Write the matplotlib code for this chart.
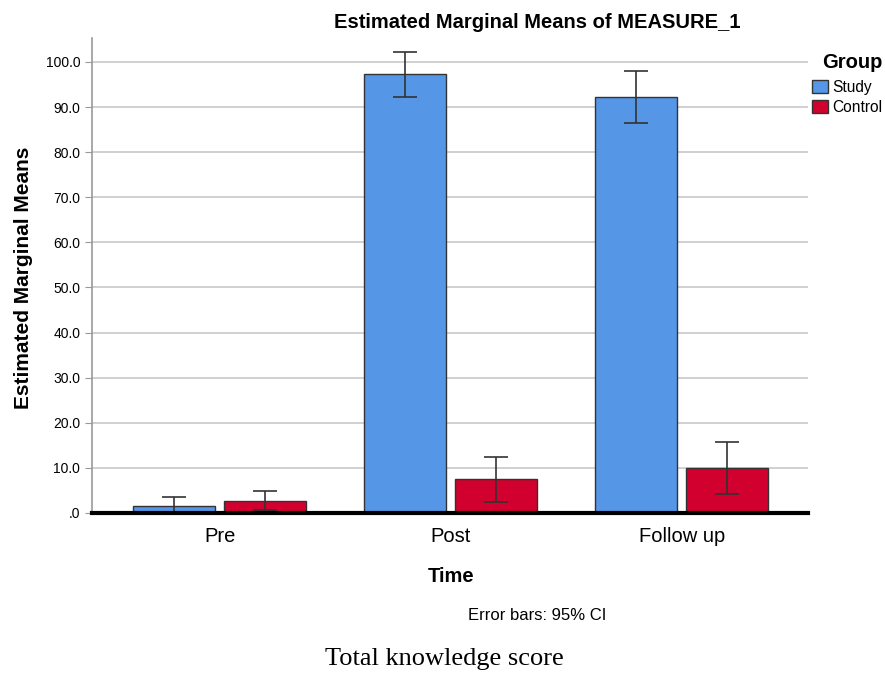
import numpy as np
import matplotlib.pyplot as plt

plt.rcParams['font.family'] = ['Liberation Sans', 'DejaVu Sans']

times = ['Pre', 'Post', 'Follow up']
groups = ['Study', 'Control']
study_mean = [1.6, 97.3, 92.2]
study_lo = [-0.3, 92.2, 86.5]
study_hi = [3.5, 102.2, 98.0]
control_mean = [2.7, 7.5, 10.0]
control_lo = [0.7, 2.4, 4.2]
control_hi = [4.9, 12.4, 15.7]
yticks = [0, 10, 20, 30, 40, 50, 60, 70, 80, 90, 100]
ytick_labels = ['.0', '10.0', '20.0', '30.0', '40.0', '50.0', '60.0', '70.0', '80.0', '90.0', '100.0']

colors = ['#5596e6', '#d2002e']

fig = plt.figure(figsize=(8.85, 6.73), dpi=100)
ax = fig.add_axes([92 / 885, 1 - 513 / 673, (808 - 92) / 885, (513 - 38) / 673])

x = np.arange(len(times))
w = 0.355
offs = [-0.2, 0.195]
series = [(study_mean, study_lo, study_hi), (control_mean, control_lo, control_hi)]
for i, (m, lo, hi) in enumerate(series):
    m = np.array(m)
    yerr = [m - np.array(lo), np.array(hi) - m]
    ax.bar(x + offs[i], m, w, color=colors[i], edgecolor='#333333', linewidth=1,
           label=groups[i], zorder=2)
    ax.errorbar(x + offs[i], m, yerr=yerr, fmt='none', ecolor='#333333',
                elinewidth=1.2, capsize=8.6, capthick=1.2, zorder=3)

ax.set_xlim(-0.554, 2.545)
ax.set_ylim(0, 105.3)
ax.set_yticks(yticks)
ax.set_yticklabels(ytick_labels, fontsize=10)
ax.set_xticks(x)
ax.set_xticklabels(times, fontsize=14.5)
ax.tick_params(axis='x', length=0, pad=10)
ax.tick_params(axis='y', length=5, color='#999999', direction='out')
ax.yaxis.grid(True, color='#c8c8c8', linewidth=1.2, zorder=0)
ax.set_axisbelow(True)

for s in ['top', 'right']:
    ax.spines[s].set_visible(False)
ax.spines['left'].set_color('#999999')
ax.spines['left'].set_linewidth(1.2)
ax.spines['bottom'].set_color('black')
ax.spines['bottom'].set_linewidth(3)
ax.spines['bottom'].set_zorder(4)

fig.text(537 / 885, 1 - 23 / 673, 'Estimated Marginal Means of MEASURE_1',
         ha='center', va='center', fontsize=14.5, fontweight='bold')
fig.text(24 / 885, 1 - 278 / 673, 'Estimated Marginal Means', rotation=90,
         ha='center', va='center', fontsize=15, fontweight='bold')
fig.text(451 / 885, 1 - 576 / 673, 'Time', ha='center', va='center',
         fontsize=14.5, fontweight='bold')
fig.text(537 / 885, 1 - 615 / 673, 'Error bars: 95% CI', ha='center', va='center',
         fontsize=12)
fig.text(444 / 885, 1 - 659 / 673, 'Total knowledge score', ha='center', va='center',
         fontsize=19, family='Liberation Serif')

fig.text(822 / 885, 1 - 63 / 673, 'Group', ha='left', va='center',
         fontsize=14.5, fontweight='bold')
leg = ax.legend(loc='upper left', bbox_to_anchor=(812 / 885, 1 - 80 / 673),
                bbox_transform=fig.transFigure, frameon=False,
                fontsize=11.2, handlelength=1.05, handleheight=0.9,
                handletextpad=0.25, labelspacing=0.3, borderaxespad=0,
                borderpad=0)

fig.savefig('out.png', dpi=100)
